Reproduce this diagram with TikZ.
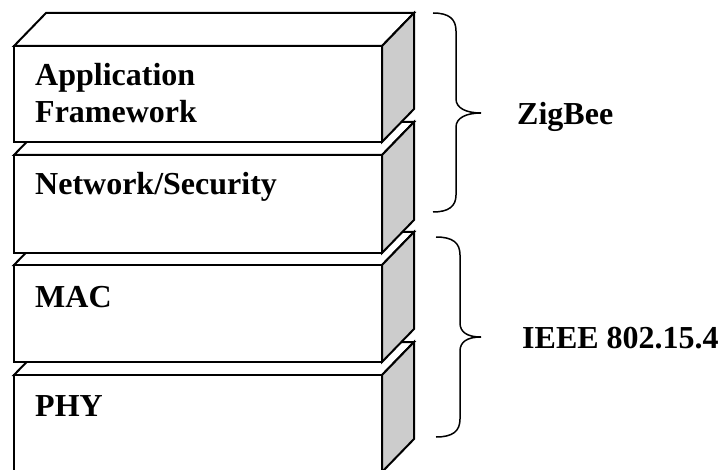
\documentclass[tikz,border=0pt]{standalone}
\usepackage{fontspec}
\setmainfont{Liberation Serif}
\begin{document}
\begin{tikzpicture}[x=1pt,y=-1pt,
  edge/.style={draw=black,line width=2pt,line join=miter},
  frontface/.style={edge,fill=white},
  sideface/.style={edge,fill=black!20},
  bracepath/.style={draw=black,line width=1.5pt},
  lbl/.style={inner sep=0pt,anchor=base west,align=left,font=\bfseries\fontsize{32}{37}\selectfont}]
\useasboundingbox (0,0) rectangle (722,470);
\newcommand\layerbox[2]{%
  \path[frontface] (14,#1) -- (46,#1-33) -- (414,#1-33) -- (382,#1) -- cycle;
  \path[sideface] (382,#1) -- (414,#1-33) -- (414,#2-33) -- (382,#2) -- cycle;
  \path[frontface] (14,#1) rectangle (382,#2);
}
\layerbox{375}{472}
\layerbox{265}{362}
\layerbox{155}{253}
\layerbox{46}{142}
\node[lbl] (app) at (35,123) {Application\\Framework};
\node[lbl] (net) at (35,195) {Network/Security};
\node[lbl] (mac) at (35,307) {MAC};
\node[lbl] (phy) at (35,416) {PHY};
\node[lbl] (zigbee) at (517,125) {ZigBee};
\node[lbl] (ieee) at (522,348) {IEEE 802.15.4};
\path[bracepath] (433,13) .. controls (449,13) and (456,19) .. (456,31) -- (456,99)
  .. controls (456,108) and (466,113) .. (481,113)
  .. controls (466,113) and (456,118) .. (456,127) -- (456,195)
  .. controls (456,206) and (449,212) .. (433,212);
\path[bracepath] (436,237) .. controls (453,237) and (460,243) .. (460,255) -- (460,323)
  .. controls (460,332) and (467,337) .. (481,337)
  .. controls (467,337) and (460,342) .. (460,351) -- (460,419)
  .. controls (460,431) and (453,437) .. (436,437);
\end{tikzpicture}
\end{document}
